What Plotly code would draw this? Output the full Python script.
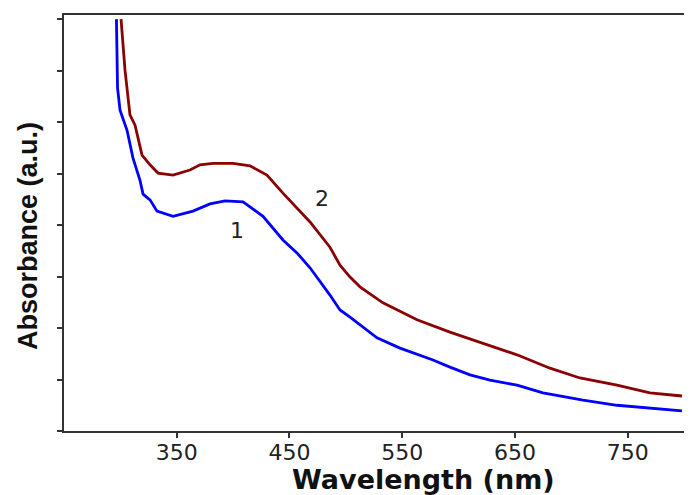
import plotly.graph_objects as go

# Curve 1 (blue)
wl_1 = [296.5, 297.5, 299.7, 305.9, 311.2, 317.4, 320.1, 326.3, 332.5, 346.7, 364.4, 379.5,
        392.8, 408.8, 426.5, 444.2, 456.6, 468.2, 485.9, 494.8, 503.7, 515.2, 527.6, 548.0,
        577.3, 592.3, 610.1, 627.8, 651.8, 674.8, 710.3, 740.5, 769.7, 798.1]
abs_1 = [0.800, 0.666, 0.623, 0.584, 0.530, 0.487, 0.460, 0.449, 0.427, 0.417, 0.427, 0.441,
         0.447, 0.445, 0.417, 0.371, 0.346, 0.317, 0.264, 0.235, 0.221, 0.202, 0.181, 0.161,
         0.138, 0.124, 0.109, 0.099, 0.089, 0.074, 0.060, 0.050, 0.045, 0.039]

# Curve 2 (dark red)
wl_2 = [300.6, 304.1, 308.5, 313.0, 319.2, 326.3, 333.4, 346.7, 361.7, 370.6, 382.1, 399.9,
        415.0, 430.0, 444.2, 468.2, 485.9, 494.8, 503.7, 512.5, 532.9, 563.1, 592.3, 621.6,
        651.8, 681.0, 707.6, 740.5, 769.7, 798.1]
abs_2 = [0.800, 0.701, 0.614, 0.594, 0.536, 0.517, 0.501, 0.497, 0.507, 0.517, 0.520, 0.520,
         0.515, 0.497, 0.462, 0.406, 0.357, 0.322, 0.299, 0.280, 0.249, 0.216, 0.192, 0.171,
         0.148, 0.122, 0.103, 0.089, 0.074, 0.068]

x_ticks = [350, 450, 550, 650, 750]
y_ticks = [0, 0.1, 0.2, 0.3, 0.4, 0.5, 0.6, 0.7, 0.8]
labels = ["1", "2"]
label_x = [403.4, 478.8]
label_y = [0.390, 0.452]

fig = go.Figure()
fig.add_trace(go.Scatter(x=wl_1, y=abs_1, mode="lines",
                         line=dict(color="#0000ff", width=2.8), showlegend=False))
fig.add_trace(go.Scatter(x=wl_2, y=abs_2, mode="lines",
                         line=dict(color="#8b0000", width=2.8), showlegend=False))

for t, lx, ly in zip(labels, label_x, label_y):
    fig.add_annotation(x=lx, y=ly, text=t, showarrow=False,
                       font=dict(family="DejaVu Sans", size=22, color="#222222"))

fig.add_annotation(xref="paper", yref="paper", x=(423 - 64) / 628, y=-(480 - 431) / 416,
                   text="Wavelength (nm)", showarrow=False, xanchor="center", yanchor="middle",
                   font=dict(family="DejaVu Sans", size=27, color="#111111", weight="bold"))
fig.add_annotation(xref="paper", yref="paper", x=(28 - 64) / 628, y=(431 - 236) / 416,
                   text="Absorbance (a.u.)", showarrow=False, textangle=-90,
                   xanchor="center", yanchor="middle",
                   font=dict(family="Liberation Sans", size=27, color="#111111", weight="bold"))

# page body has an 8px margin, so the figure is 8px smaller and margins compensate
fig.update_layout(
    width=684, height=487,
    margin=dict(l=56, r=0, t=7, b=64),
    paper_bgcolor="white", plot_bgcolor="white",
    xaxis=dict(range=[250, 807], tickvals=x_ticks, ticks="outside", ticklen=5, tickwidth=2,
               tickcolor="#333333", showline=True, linecolor="#333333", linewidth=2,
               mirror=True, showgrid=False, zeroline=False, ticklabelstandoff=-4,
               tickfont=dict(family="DejaVu Sans", size=22, color="#222222")),
    yaxis=dict(range=[0, 0.808], tickvals=y_ticks, ticks="outside", ticklen=5, tickwidth=2,
               tickcolor="#333333", showline=True, linecolor="#333333", linewidth=2,
               showticklabels=False, showgrid=False, zeroline=False),
)

fig.write_html("out.html")
